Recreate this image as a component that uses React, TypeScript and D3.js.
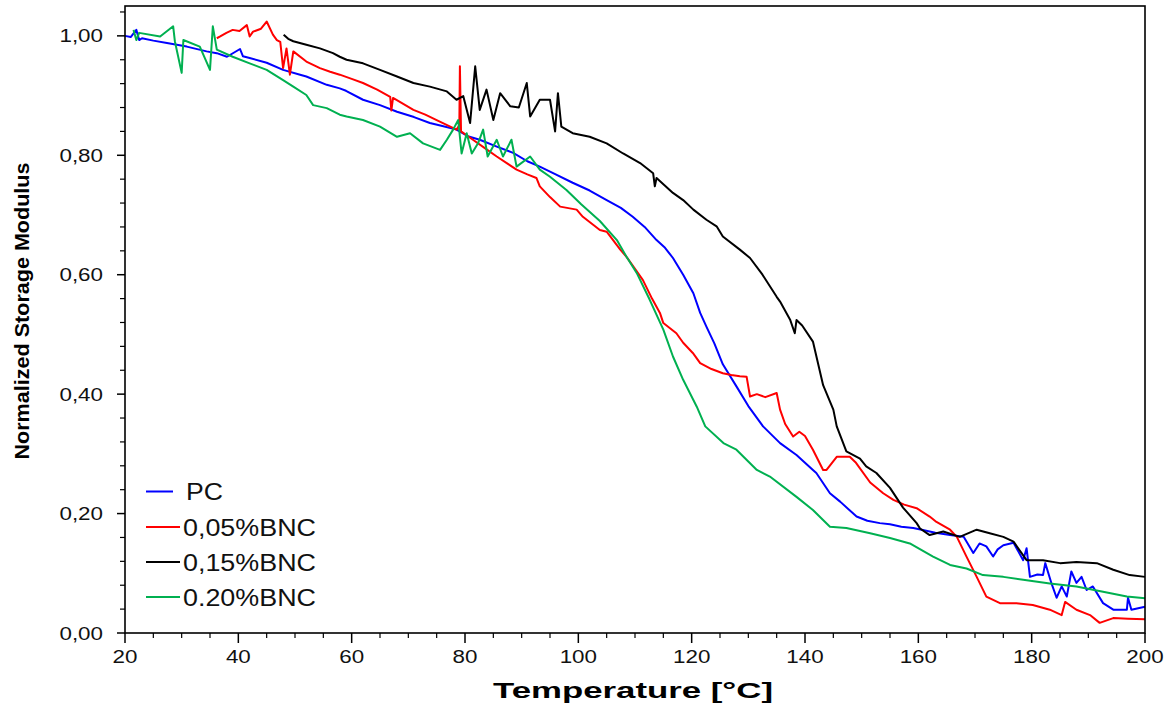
import React from "react";
import * as d3 from "d3";

const xTicks = [20, 40, 60, 80, 100, 120, 140, 160, 180, 200];
const yTicks = [0, 0.2, 0.4, 0.6, 0.8, 1.0];
const yTickLabels = ["0,00", "0,20", "0,40", "0,60", "0,80", "1,00"];
const seriesNames = ["PC", "0,05%BNC", "0,15%BNC", "0.20%BNC"];
const seriesColors = ["#0000ff", "#ff0000", "#000000", "#00b050"];

const pcTemp = [20,21,22,22.5,23,25,27.4,30.9,34.4,36.2,38,40.3,40.8,42,45,47.9,50.9,52,55.6,57.9,59,62,65,68,71,73.8,76,78.5,80.5,82.6,85.5,88.5,91,93.2,96,99,102,105,107.5,109.6,111.7,113.8,115.3,116.7,118.5,120.3,121.5,122.6,124,125.5,127.9,130,132.6,135.6,138.5,141.4,142,144.4,146.2,149.1,151,153.2,155,157,159.1,161,163,165.6,168,169.7,170.8,172,173.2,174,175,176.8,178.5,179.1,179.7,181,182,182.4,183.5,184.4,185.3,186.2,187,187.9,188.8,189.7,190.8,192.6,194.4,196.8,197,197.6,200];
const pcValue = [1.0,0.998,1.01,0.993,0.996,0.992,0.988,0.982,0.974,0.971,0.965,0.978,0.966,0.963,0.955,0.943,0.935,0.932,0.918,0.912,0.908,0.893,0.884,0.873,0.864,0.854,0.849,0.843,0.832,0.826,0.815,0.804,0.79,0.781,0.768,0.754,0.741,0.725,0.712,0.697,0.68,0.658,0.645,0.628,0.6,0.569,0.536,0.513,0.485,0.45,0.413,0.38,0.346,0.318,0.298,0.273,0.268,0.234,0.22,0.195,0.188,0.184,0.182,0.178,0.176,0.172,0.168,0.164,0.161,0.134,0.15,0.145,0.128,0.14,0.147,0.151,0.122,0.142,0.094,0.098,0.097,0.117,0.083,0.059,0.078,0.061,0.103,0.084,0.094,0.072,0.078,0.05,0.039,0.039,0.059,0.039,0.044];

const bnc05Temp = [36.2,36.8,37.9,39,40.2,41.5,42,42.6,44,45,46.1,46.8,47.4,47.9,48.5,49.1,49.7,52,54.4,56.2,57.9,60,62,64.5,66.8,67,67.3,70.9,73,75,78.5,79,79.1,79.3,81.4,83.5,85.6,87.5,89.1,91,92.6,93.2,95,96.8,99.7,100.8,103.8,105,107.4,108.5,110,111.4,113,114.4,115,117.3,118.5,120.2,121.5,123.5,125.5,127,128.5,129.7,130.3,131.5,133,135,135.6,136.5,137.9,139,140,141.4,143.2,143.8,145.6,146.2,147.9,149,151.5,153.8,155.6,157.5,159.7,162,163.2,165.6,166.8,168.5,170.3,172,174.4,177.3,180.2,183.2,185.3,185.9,187.9,190.3,192,194.4,197,200];
const bnc05Value = [0.996,0.999,1.005,1.01,1.008,1.018,0.999,1.007,1.012,1.024,1.002,0.993,0.99,0.946,0.979,0.935,0.974,0.957,0.946,0.94,0.935,0.928,0.921,0.91,0.898,0.875,0.896,0.876,0.868,0.859,0.843,0.85,0.949,0.84,0.826,0.812,0.798,0.786,0.776,0.768,0.762,0.748,0.73,0.714,0.709,0.697,0.675,0.672,0.642,0.63,0.61,0.591,0.56,0.536,0.519,0.502,0.486,0.469,0.452,0.442,0.435,0.432,0.43,0.429,0.396,0.4,0.395,0.402,0.374,0.35,0.329,0.337,0.33,0.307,0.273,0.273,0.295,0.295,0.295,0.285,0.252,0.234,0.223,0.215,0.209,0.195,0.186,0.173,0.161,0.128,0.094,0.061,0.05,0.05,0.047,0.039,0.03,0.052,0.039,0.03,0.017,0.025,0.024,0.023];

const bnc15Temp = [48,48.8,49.7,52,54.4,56.7,57.9,59.1,62,65,68,70.9,73.8,76.8,78.5,79.7,80.9,81.8,82.6,83.8,85,86.2,88,89.5,90.9,91.5,93.2,95,95.9,96.4,97,99,102,105,107.9,110.9,113.2,113.5,113.8,116.7,118.5,120.3,122.6,124.4,125.5,128.5,130.3,132.5,135,135.6,137.4,138.2,138.5,139.5,141.4,143.2,145,145.6,147.3,149.7,150.8,152.6,155,157.3,159.7,160.3,162,164.4,167.3,170.3,172.6,175,176.8,179.1,182,185,187.9,191.5,194.4,197.3,200];
const bnc15Value = [1.002,0.995,0.991,0.985,0.979,0.971,0.965,0.96,0.954,0.943,0.932,0.921,0.915,0.907,0.893,0.899,0.854,0.949,0.876,0.91,0.859,0.904,0.882,0.88,0.921,0.865,0.893,0.893,0.84,0.904,0.848,0.837,0.831,0.82,0.803,0.787,0.77,0.748,0.762,0.737,0.725,0.709,0.692,0.681,0.664,0.642,0.628,0.6,0.563,0.555,0.524,0.502,0.524,0.515,0.488,0.415,0.374,0.346,0.304,0.292,0.279,0.268,0.243,0.21,0.184,0.175,0.164,0.17,0.161,0.173,0.167,0.161,0.153,0.122,0.122,0.117,0.119,0.117,0.106,0.097,0.094];

const bnc20Temp = [21.5,22,22.5,26.2,28.5,28.8,30,30.3,33.2,35,35.5,36.2,39,42,45,47.9,49.7,52,53.2,55.6,57.9,59.1,62,65,68,70.3,72.6,75.6,76.8,77.9,78.8,79.4,80.3,81.2,82.3,83.2,84,85.6,86.7,88.2,89.1,91.5,93.2,95,97.9,100.5,103.8,106.8,108.5,110.3,112.6,115,116.7,118.5,120.9,122.4,125.6,127.9,131.5,133.8,138.5,141.4,144.4,147.3,151.5,155,158.5,162.6,165.6,168.5,171.4,175,178.5,183.2,187.9,192.6,196.8,200];
const bnc20Value = [1.01,0.993,1.005,0.999,1.016,0.991,0.938,0.993,0.982,0.943,1.016,0.977,0.965,0.954,0.943,0.926,0.915,0.901,0.884,0.879,0.868,0.865,0.859,0.848,0.831,0.837,0.82,0.809,0.826,0.843,0.859,0.803,0.837,0.803,0.82,0.843,0.798,0.826,0.798,0.826,0.781,0.798,0.776,0.764,0.742,0.718,0.69,0.658,0.63,0.603,0.558,0.508,0.463,0.424,0.379,0.346,0.318,0.307,0.273,0.262,0.228,0.206,0.178,0.176,0.167,0.159,0.15,0.128,0.114,0.108,0.097,0.094,0.089,0.083,0.078,0.069,0.061,0.058];

const seriesTemps = [pcTemp, bnc05Temp, bnc15Temp, bnc20Temp];
const seriesValues = [pcValue, bnc05Value, bnc15Value, bnc20Value];

const W = 1174, H = 708;
const left = 125, right = 1145, top = 6, bottom = 633;
const FONT = "'Liberation Sans', Arial, sans-serif";

export default function App() {
  const x = d3.scaleLinear().domain([20, 200]).range([left, right]);
  const y = d3.scaleLinear().domain([0, 1.05]).range([bottom, top]);
  const line = d3.line<[number, number]>().x(d => x(d[0])).y(d => y(d[1]));
  const xMinor = d3.range(20, 200.01, 5).filter(v => v % 20 !== 0);
  const yMinor = d3.range(0, 1.0401, 0.04).map(v => +v.toFixed(2)).filter(v => Math.abs(v * 5 - Math.round(v * 5)) > 1e-6);

  return (
    <svg width={W} height={H} style={{ position: "absolute", left: 0, top: 0, background: "#fff" }} fontFamily={FONT}>
      <rect x={0} y={0} width={W} height={H} fill="#fff" />
      {seriesNames.map((n, i) => (
        <path key={n} d={line(seriesTemps[i].map((t, j) => [t, seriesValues[i][j]] as [number, number])) || ""}
          fill="none" stroke={seriesColors[i]} strokeWidth={2} strokeLinejoin="round" />
      ))}
      {/* frame */}
      <rect x={left} y={top} width={right - left} height={bottom - top} fill="none" stroke="#000" strokeWidth={1.6} />
      {/* y ticks */}
      {yTicks.map((v, i) => (
        <g key={"y" + i}>
          <line x1={left - 8} x2={left} y1={y(v)} y2={y(v)} stroke="#000" strokeWidth={1.5} />
          <text transform={`translate(${left - 22},${y(v) + 6.5}) scale(1.28,1)`} textAnchor="end" fontSize={17.5} fill="#111">{yTickLabels[i]}</text>
        </g>
      ))}
      {yMinor.map((v, i) => (
        <line key={"ym" + i} x1={left - 5} x2={left} y1={y(v)} y2={y(v)} stroke="#000" strokeWidth={1.2} />
      ))}
      {/* x ticks */}
      {xTicks.map((v, i) => (
        <g key={"x" + i}>
          <line x1={x(v)} x2={x(v)} y1={bottom} y2={bottom + 10} stroke="#000" strokeWidth={1.5} />
          <text transform={`translate(${x(v)},${bottom + 30}) scale(1.28,1)`} textAnchor="middle" fontSize={17.5} fill="#111">{v}</text>
        </g>
      ))}
      {xMinor.map((v, i) => (
        <line key={"xm" + i} x1={x(v)} x2={x(v)} y1={bottom} y2={bottom + 5} stroke="#000" strokeWidth={1.2} />
      ))}
      {/* axis titles */}
      <text x={633} y={698} textAnchor="middle" fontSize={22} fontWeight="bold" textLength={280} lengthAdjust="spacingAndGlyphs">Temperature [°C]</text>
      <text transform="translate(29,311) rotate(-90)" textAnchor="middle" fontSize={20} fontWeight="bold" textLength={297} lengthAdjust="spacingAndGlyphs">Normalized Storage Modulus</text>
      {/* legend */}
      {seriesNames.map((n, i) => {
        const ly = [491.5, 527, 562, 597][i];
        return (
          <g key={"lg" + n}>
            <line x1={146} x2={i === 0 ? 173 : 180} y1={ly} y2={ly} stroke={seriesColors[i]} strokeWidth={2} />
            <text x={i === 0 ? 186 : 183} y={ly + 8.5} fontSize={23} fill="#111" textLength={i === 0 ? 37 : 133} lengthAdjust="spacingAndGlyphs">{n}</text>
          </g>
        );
      })}
    </svg>
  );
}
